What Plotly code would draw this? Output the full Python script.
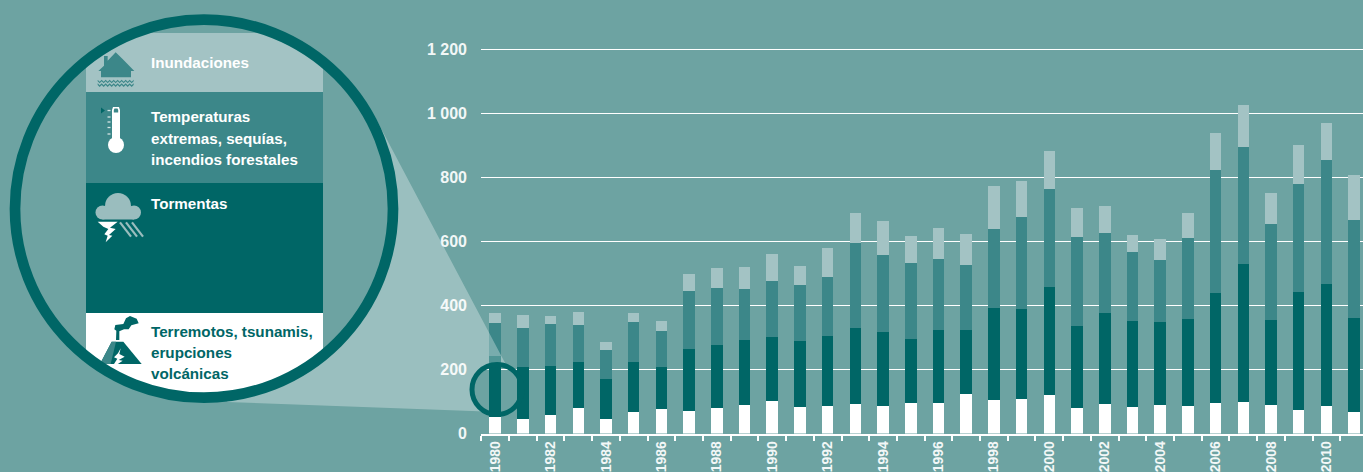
import numpy as np
import plotly.graph_objects as go

W, H = 1363, 472
years = list(range(1980, 2012))
geologicos = [52,46,59,80,46,68,77,70,80,88,102,83,86,91,86,96,94,123,106,109,121,80,91,83,88,86,94,97,88,73,86,68]
tormentas = [190,162,152,143,124,155,131,194,197,204,200,206,220,239,231,199,229,200,287,281,337,257,286,269,260,273,345,434,266,369,382,294]
temperaturas = [104,122,131,116,92,124,113,181,179,160,175,176,183,266,241,238,222,204,247,287,306,276,250,214,194,252,383,365,301,339,388,304]
inundaciones = [31,39,24,42,24,30,31,53,60,68,84,58,90,92,106,83,96,95,132,113,118,92,84,53,66,77,116,131,98,121,114,142]
y_ticks = [0, 200, 400, 600, 800, 1000, 1200]
y_labels = ["0", "200", "400", "600", "800", "1 000", "1 200"]
x_labels = list(range(1980, 2011, 2))
legend_lines = [
    ("Inundaciones", 63, "#FFFFFF"),
    ("Temperaturas", 116, "#FFFFFF"),
    ("extremas, sequías,", 138, "#FFFFFF"),
    ("incendios forestales", 159.5, "#FFFFFF"),
    ("Tormentas", 203, "#FFFFFF"),
    ("Terremotos, tsunamis,", 331, "#006666"),
    ("erupciones", 352, "#006666"),
    ("volcánicas", 373, "#006666"),
]

BG, DARK, MID, LIGHT, PALE = "#6DA3A2", "#006666", "#3C8789", "#A3C3C4", "#9ABDBE"
FONT = "Liberation Sans, Arial, sans-serif"

px = lambda x: x / W
py = lambda y: 1 - y / H
shapes = []

def poly(pts, fill, layer="above"):
    d = "M" + " L".join(f"{px(x):.5f},{py(y):.5f}" for x, y in pts) + " Z"
    shapes.append(dict(type="path", xref="paper", yref="paper", path=d, fillcolor=fill,
                       line=dict(width=0), layer=layer))

def circle(cx, cy, r, fill="rgba(0,0,0,0)", lw=0, lc=None):
    shapes.append(dict(type="circle", xref="paper", yref="paper", x0=px(cx - r), x1=px(cx + r),
                       y0=py(cy + r), y1=py(cy - r), fillcolor=fill,
                       line=dict(width=lw, color=lc or fill)))

def line(x0, y0, x1, y1, color, w):
    shapes.append(dict(type="line", xref="paper", yref="paper", x0=px(x0), x1=px(x1),
                       y0=py(y0), y1=py(y1), line=dict(color=color, width=w)))

def zoomed(pts, ox, oy):
    return [(ox + a / 3, oy + b / 3) for a, b in pts]

# zoom wedge: its narrow end follows the small circle
scx, scy, sr = 497, 389.5, 25
a0, a1 = np.arctan2(355 - scy, 512 - scx), np.arctan2(414 - scy, 484 - scx)
arc = np.linspace(a0, a1 - 2 * np.pi if a1 > a0 else a1, 40)
wedge = [(375, 117)] + [(scx + sr * np.cos(t), scy + sr * np.sin(t)) for t in arc] + [(227, 402)]
poly(wedge, "rgba(255,255,255,0.31)")
circle(scx, scy, sr, lw=5, lc=DARK)

# magnifier disc and bands clipped by the large circle
cx, cy, R = 204, 208.7, 186
circle(cx, cy, R, BG)
def band(y0, y1, fill):
    ys = np.linspace(max(y0, cy - R + .5), min(y1, cy + R - .5), 60)
    half = np.sqrt(R ** 2 - (ys - cy) ** 2)
    left = [(max(86, cx - h), y) for h, y in zip(half, ys)]
    right = [(min(323, cx + h), y) for h, y in zip(half, ys)]
    poly(left + right[::-1], fill)
band(33, 92, LIGHT)
band(92, 183, MID)
band(183, 313, DARK)
band(313, 400, "#FFFFFF")

# house icon
poly(zoomed([(92,37),(112,56),(148,93),(138,93),(138,112),(48,112),(48,93),(40,93),(57,77),(57,48),(68,48),(68,62)], 85, 40), MID)
for wy in (122, 133):
    xs = np.arange(38, 152, 6)
    top = [(x, wy + (3 if i % 2 else -3)) for i, x in enumerate(xs)]
    poly(zoomed(top + [(x, y + 5) for x, y in top[::-1]], 85, 40), MID)

# thermometer icon
circle(116, 145, 8, "#FFFFFF")
poly([(112, 110), (113, 107), (119, 107), (120, 110), (120, 142), (112, 142)], "#FFFFFF")
poly([(113.8, 110), (114.5, 108.5), (117.5, 108.5), (118.2, 110), (118.2, 112.5), (113.8, 112.5)], MID)
for ty in (110.5, 117, 122, 127.5, 134):
    line(107.5, ty, 110.5, ty, "#D5E5E5", 1.3)
poly([(101, 107.5), (105, 110.5), (101, 113.5)], DARK)

# storm icon
circle(118, 206, 13, PALE)
circle(102.5, 212.5, 7, PALE)
circle(134, 212.5, 7, PALE)
poly([(102.5, 208), (134, 208), (134, 219.5), (102.5, 219.5)], PALE)
poly(zoomed([(38,110),(98,110),(75,128),(92,132),(72,150),(82,152),(62,172),(68,152),(58,148),(70,132),(55,125)], 85, 185), "#FFFFFF")
for sx in (105, 123, 141):
    line(85 + sx / 3, 185 + 112 / 3, 85 + (sx + 33) / 3, 185 + 155 / 3, PALE, 2.2)

# volcano icon
poly(zoomed([(65,95),(100,95),(155,162),(30,162)], 90, 310), DARK)
poly(zoomed([(65,95),(78,95),(62,162),(30,162)], 90, 310), MID)
poly(zoomed([(92,115),(88,132),(104,140),(86,150),(98,152),(78,166),(72,162),(82,146),(72,142),(84,130)], 90, 310), "#FFFFFF")
poly(zoomed([(78,90),(88,90),(88,64),(102,58),(116,58),(124,46),(146,40),(140,26),(120,18),(108,25),(100,42),(76,45),(73,58),(79,62)], 90, 310), DARK)

# magnifier ring
circle(cx, cy, 189, lw=10.7, lc=DARK)

annotations = [
    dict(text=f"<b>{t}</b>", x=px(149.5), y=py(yy), xref="paper", yref="paper", xanchor="left",
         yanchor="middle", showarrow=False, borderpad=0, font=dict(family=FONT, size=15.2, color=c))
    for t, yy, c in legend_lines
]

fig = go.Figure()
for name, vals, col in [("Terremotos, tsunamis, erupciones volcánicas", geologicos, "#FFFFFF"),
                        ("Tormentas", tormentas, DARK),
                        ("Temperaturas extremas, sequías, incendios forestales", temperaturas, MID),
                        ("Inundaciones", inundaciones, LIGHT)]:
    fig.add_bar(x=years, y=vals, name=name, marker=dict(color=col, line=dict(width=0)))

fig.update_layout(
    width=W, height=H, autosize=False, barmode="stack", bargap=0.585, showlegend=False,
    margin=dict(l=0, r=0, t=0, b=0, pad=0, autoexpand=False), paper_bgcolor=BG, plot_bgcolor=BG,
    shapes=shapes, annotations=annotations,
    font=dict(family=FONT, color="#F2F7F7"),
    xaxis=dict(domain=[481 / W, 1], range=[1979.49, 2011.32], showgrid=False, zeroline=False,
               automargin=False, showline=True, linecolor="#FFFFFF", linewidth=2,
               tickvals=x_labels, ticktext=[f"<b>{v}</b>" for v in x_labels], tickangle=-90,
               ticks="", ticklabelstandoff=0, tickfont=dict(size=14, color="#F2F7F7"),
               minor=dict(tickvals=[y - 0.5 for y in years], ticks="outside", ticklen=5,
                          tickwidth=1.6, tickcolor="#FFFFFF", showgrid=False)),
    yaxis=dict(domain=[(H - 433.5) / H, (H - 10) / H], range=[0, 1323.4], showgrid=True,
               automargin=False, gridcolor="#FFFFFF", gridwidth=1.4, zeroline=False, showline=False,
               tickvals=y_ticks, ticktext=[f"<b>{t}</b>" for t in y_labels], ticks="",
               ticklabelstandoff=13, tickfont=dict(size=16, color="#F2F7F7")),
)
fig.write_html(
    "out.html",
    config=dict(displayModeBar=False, responsive=False),
    default_width=f"{W}px", default_height=f"{H}px",
    post_script=(
        "document.documentElement.style.background='#6DA3A2';"
        "document.documentElement.style.overflow='hidden';"
        "document.body.style.margin='0';document.body.style.overflow='hidden';"),
)
